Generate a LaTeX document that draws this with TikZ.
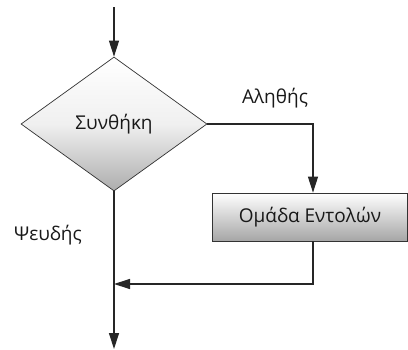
\documentclass[tikz,border=0pt]{standalone}
\usepackage{fontspec}
\setmainfont{Open Sans}
\usetikzlibrary{shapes.geometric,arrows.meta}
\begin{document}
\begin{tikzpicture}[x=1pt,y=-1pt,
  conn/.style={draw=black!85,line width=1.2pt},
  arr/.style={conn,-{Triangle[length=16pt,width=10pt]}},
  lbl/.style={font=\fontsize{19}{22}\selectfont,text=black!90},
  decision/.style={diamond,draw=black!80,line width=0.7pt,minimum width=186pt,minimum height=134pt,aspect=1.39,inner sep=0pt,top color=white,bottom color=black!32,middle color=black!6},
  process/.style={rectangle,draw=black!80,line width=0.7pt,minimum width=195pt,minimum height=48pt,inner sep=0pt,top color=white,bottom color=black!35}]
\useasboundingbox (0,0) rectangle (408,349);
\coordinate (start) at (114,7);
\node[decision,lbl] (cond) at (114,124) {Συνθήκη};
\node[process,lbl] (block) at (310,217) {Ομάδα Εντολών};
\coordinate (turn) at (313,124);
\coordinate (join) at (114,284);
\coordinate (back) at (313,284);
\coordinate (stop) at (114,349);
\node[lbl] (true) at (275,98) {Αληθής};
\node[lbl] (false) at (48,235) {Ψευδής};
\draw[arr] (start) -- (cond.north);
\draw[arr] (cond.east) -- (turn) -- (block.north -| turn);
\draw[arr] (block.south -| back) -- (back) -- (join);
\draw[arr] (cond.south) -- (stop);
\end{tikzpicture}
\end{document}
